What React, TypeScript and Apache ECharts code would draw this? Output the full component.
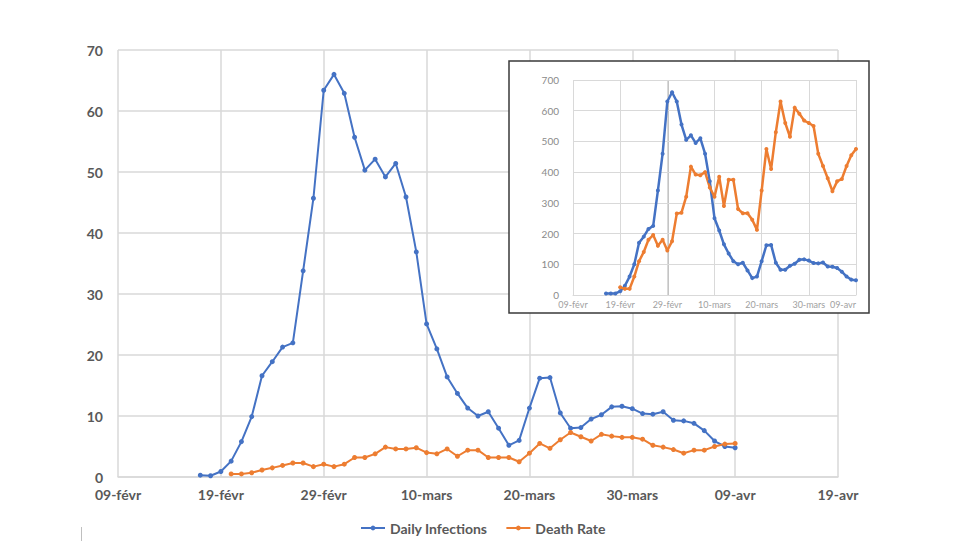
import React, { useEffect, useRef } from "react";
import * as echarts from "echarts";

// Day index 0 = 09-févr (2020)
const tickLabels = ["09-févr", "19-févr", "29-févr", "10-mars", "20-mars", "30-mars", "09-avr", "19-avr"];

// Main chart
const infectionsStart = 8;
const infections = [
  0.3, 0.2, 0.9, 2.6, 5.8, 9.9, 16.6, 18.9, 21.3, 22.0, 33.8, 45.7, 63.4, 66.0, 62.9, 55.7, 50.3, 52.1,
  49.2, 51.4, 45.9, 36.9, 25.1, 21.0, 16.4, 13.7, 11.3, 10.0, 10.7, 8.0, 5.2, 6.0, 11.3, 16.2, 16.3,
  10.5, 8.0, 8.1, 9.5, 10.2, 11.5, 11.6, 11.2, 10.4, 10.3, 10.7, 9.3, 9.2, 8.8, 7.6, 5.9, 5.0, 4.8,
];
const deathStart = 11;
const deathRate = [
  0.5, 0.5, 0.7, 1.15, 1.5, 1.9, 2.3, 2.3, 1.7, 2.1, 1.7, 2.1, 3.2, 3.2, 3.8, 4.9, 4.6, 4.6, 4.8, 4.0,
  3.8, 4.6, 3.4, 4.4, 4.4, 3.2, 3.2, 3.2, 2.5, 3.9, 5.5, 4.7, 6.1, 7.3, 6.6, 5.9, 7.0, 6.7, 6.5, 6.5,
  6.2, 5.2, 4.9, 4.5, 3.9, 4.4, 4.4, 5.0, 5.4, 5.5,
];

// Inset chart
const insetInfectionsStart = 7;
const insetInfections = [
  5, 5, 5, 12, 30, 60, 100, 170, 190, 215, 225, 340, 460, 630, 660, 630, 555, 505, 520, 495, 510, 460,
  370, 250, 210, 165, 135, 110, 100, 105, 80, 55, 60, 110, 162, 163, 105, 82, 82, 95, 102, 115, 116,
  112, 104, 103, 106, 93, 92, 88, 76, 60, 50, 48,
];
const insetDeathStart = 10;
const insetDeaths = [
  25, 20, 20, 60, 110, 140, 180, 195, 160, 180, 145, 175, 265, 268, 320, 418, 392, 390, 400, 350, 320,
  385, 290, 375, 375, 280, 266, 266, 245, 212, 340, 475, 410, 530, 630, 560, 515, 610, 590, 568, 560,
  550, 460, 420, 380, 338, 370, 378, 420, 455, 475,
];

const BLUE = "#4472C4";
const ORANGE = "#ED7D31";
const GRID = "#d9d9d9";
const TEXT = "#595959";
const FONT = "Lato, 'Open Sans', sans-serif";

const toPoints = (start: number, arr: number[]) => arr.map((v, i) => [start + i, v]);

export default function App() {
  const ref = useRef<HTMLDivElement>(null);

  useEffect(() => {
    if (!ref.current) return;
    const chart = echarts.init(ref.current, undefined, { renderer: "svg" });
    chart.setOption({
      animation: false,
      backgroundColor: "#ffffff",
      textStyle: { fontFamily: FONT },
      legend: {
        data: ["Daily Infections", "Death Rate"],
        left: 355,
        top: 516,
        itemWidth: 24,
        itemHeight: 6,
        itemGap: 18,
        textStyle: { color: TEXT, fontSize: 14, fontWeight: "bold", fontFamily: FONT },
      },
      grid: [
        { left: 118, right: 134, top: 50, bottom: 71 },
        { left: 573, right: 116, top: 80, bottom: 253 },
      ],
      xAxis: [
        {
          type: "value",
          gridIndex: 0,
          min: 0,
          max: 70,
          interval: 10,
          axisLine: { show: true, lineStyle: { color: GRID, width: 1.5 } },
          axisTick: { show: false },
          splitLine: { show: true, lineStyle: { color: GRID, width: 1.5 } },
          axisLabel: {
            color: TEXT,
            fontSize: 14,
            fontWeight: "bold",
            margin: 10,
            fontFamily: FONT,
            formatter: (v: number) => tickLabels[Math.round(v / 10)] ?? "",
          },
        },
        {
          type: "value",
          gridIndex: 1,
          min: 0,
          max: 60,
          interval: 10,
          z: 10,
          axisLine: { show: true, lineStyle: { color: GRID } },
          axisTick: { show: false },
          splitLine: { show: true, lineStyle: { color: GRID } },
          axisLabel: {
            color: "#a0a0a0",
            fontSize: 9,
            margin: 5,
            fontFamily: FONT,
            alignMaxLabel: "right",
            formatter: (v: number) => tickLabels[Math.round(v / 10)] ?? "",
          },
        },
      ],
      yAxis: [
        {
          type: "value",
          gridIndex: 0,
          min: 0,
          max: 70,
          interval: 10,
          axisLine: { show: false },
          axisTick: { show: false },
          splitLine: { show: true, lineStyle: { color: GRID, width: 1.5 } },
          axisLabel: { color: TEXT, fontSize: 14, fontWeight: "bold", margin: 15, fontFamily: FONT },
        },
        {
          type: "value",
          gridIndex: 1,
          min: 0,
          max: 700,
          interval: 100,
          z: 10,
          axisLine: { show: false },
          axisTick: { show: false },
          splitLine: { show: true, lineStyle: { color: GRID } },
          axisLabel: { color: "#8a8a8a", fontSize: 10, margin: 14, fontFamily: FONT },
        },
      ],
      graphic: [
        {
          type: "rect",
          z: 5,
          shape: { x: 509, y: 61, width: 360, height: 252 },
          style: { fill: "#ffffff", stroke: "#3a3a3a", lineWidth: 1.5 },
        },
        {
          type: "line",
          z: 5,
          shape: { x1: 81.5, y1: 527, x2: 81.5, y2: 541 },
          style: { stroke: "#bfbfbf", lineWidth: 1 },
        },
      ],
      series: [
        {
          name: "Daily Infections",
          type: "line",
          xAxisIndex: 0,
          yAxisIndex: 0,
          data: toPoints(infectionsStart, infections),
          symbol: "circle",
          symbolSize: 5,
          lineStyle: { color: BLUE, width: 2 },
          itemStyle: { color: BLUE },
          z: 2,
        },
        {
          name: "Death Rate",
          type: "line",
          xAxisIndex: 0,
          yAxisIndex: 0,
          data: toPoints(deathStart, deathRate),
          symbol: "circle",
          symbolSize: 5,
          lineStyle: { color: ORANGE, width: 2 },
          itemStyle: { color: ORANGE },
          z: 2,
        },
        {
          name: "Inset Infections",
          type: "line",
          xAxisIndex: 1,
          yAxisIndex: 1,
          data: toPoints(insetInfectionsStart, insetInfections),
          symbol: "circle",
          symbolSize: 4,
          lineStyle: { color: BLUE, width: 2.5 },
          itemStyle: { color: BLUE },
          z: 12,
          markLine: {
            silent: true,
            symbol: "none",
            label: { show: false },
            lineStyle: { color: "#c4c4c4", width: 2, type: "solid" },
            data: [{ xAxis: 20 }],
          },
        },
        {
          name: "Inset Deaths",
          type: "line",
          xAxisIndex: 1,
          yAxisIndex: 1,
          data: toPoints(insetDeathStart, insetDeaths),
          symbol: "circle",
          symbolSize: 4,
          lineStyle: { color: ORANGE, width: 2.5 },
          itemStyle: { color: ORANGE },
          z: 12,
        },
      ],
    });
    return () => chart.dispose();
  }, []);

  return (
    <div
      ref={ref}
      style={{ position: "fixed", left: 0, top: 0, width: 972, height: 548 }}
    />
  );
}
